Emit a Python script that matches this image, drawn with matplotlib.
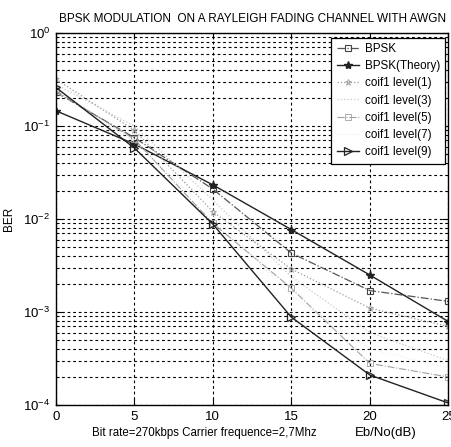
import numpy as np
import matplotlib
matplotlib.use("Agg")
import matplotlib.pyplot as plt
from matplotlib.ticker import LogLocator, NullFormatter

plt.rcParams['font.family'] = ['Liberation Sans', 'DejaVu Sans']

# Eb/No points (dB) and BER values
ebno = [0, 5, 10, 15, 20, 25]
ber_bpsk = [0.23, 0.075, 0.021, 0.0043, 0.0017, 0.0013]
ber_theory = [0.146, 0.064, 0.0233, 0.0077, 0.0025, 0.00079]
ber_lvl1 = [0.32, 0.09, 0.012, 0.0029, 0.0011, 0.0007]
ber_lvl3 = [0.28, 0.1, 0.016, 0.0024, 0.0006, 0.0003]
ber_lvl5 = [0.24, 0.072, 0.009, 0.0018, 0.00028, 0.0002]
ber_lvl7 = [0.23, 0.068, 0.011, 0.0015, 0.0004, 0.00025]
ber_lvl9 = [0.26, 0.058, 0.0088, 0.00088, 0.00021, 0.000105]

fig = plt.figure(figsize=(4.51, 4.47), dpi=100)
ax = fig.add_axes([0.124, 0.094, 0.870, 0.832])

ax.semilogy(ebno, ber_bpsk, '-.', color='#555555', lw=0.9, marker='s',
            ms=5, mfc='none', mec='#444444', mew=0.8, label='BPSK')
ax.semilogy(ebno, ber_theory, '-', color='#222222', lw=1.0, marker='*',
            ms=6, mfc='#222222', mec='#222222', label='BPSK(Theory)')
ax.semilogy(ebno, ber_lvl1, ':', color='#9a9a9a', lw=0.9, marker='*',
            ms=5, mfc='none', mec='#9a9a9a', mew=0.6, label='coif1 level(1)')
ax.semilogy(ebno, ber_lvl3, ':', color='#c8c8c8', lw=0.9,
            label='coif1 level(3)')
ax.semilogy(ebno, ber_lvl5, '-.', color='#a0a0a0', lw=0.8, marker='s',
            ms=4, mfc='none', mec='#a0a0a0', mew=0.6, label='coif1 level(5)')
ax.semilogy(ebno, ber_lvl7, ':', color='#ececec', lw=0.8,
            label='coif1 level(7)')
ax.semilogy(ebno, ber_lvl9, '-', color='#222222', lw=1.0, marker='>',
            ms=6, mfc='none', mec='#222222', mew=0.9, label='coif1 level(9)')

ax.set_xlim(0, 25)
ax.set_ylim(1e-4, 1)
ax.set_xticks([0, 5, 10, 15, 20, 25])
ax.yaxis.set_major_locator(LogLocator(base=10, numticks=10))
ax.yaxis.set_minor_locator(LogLocator(base=10, subs=np.arange(2, 10), numticks=10))
ax.yaxis.set_minor_formatter(NullFormatter())

# dashed MATLAB-like grid
gstyle = dict(color='black', lw=0.8, linestyle=(0, (2.5, 2.5)))
ax.grid(True, which='major', axis='both', **gstyle)
ax.grid(True, which='minor', axis='y', **gstyle)

ax.tick_params(which='both', direction='in', labelsize=9.5, top=True, right=True)
ax.tick_params(which='major', length=4, pad=4)
ax.tick_params(which='minor', length=2)
for s in ax.spines.values():
    s.set_linewidth(1.0)

ax.set_ylabel('BER', fontsize=8.5, labelpad=6)
ax.set_title('BPSK MODULATION  ON A RAYLEIGH FADING CHANNEL WITH AWGN',
             fontsize=8.5, pad=8)

fig.text(92 / 451, 1 - 433 / 447, 'Bit rate=270kbps Carrier frequence=2,7Mhz',
         fontsize=8.3, ha='left', va='center')
fig.text(355 / 451, 1 - 433 / 447, 'Eb/No(dB)', fontsize=9.5, ha='left', va='center')

leg = ax.legend(loc='upper right', bbox_to_anchor=(0.992, 0.988), borderaxespad=0,
                fontsize=8.4, handlelength=1.9, labelspacing=0.45, fancybox=False,
                framealpha=1, edgecolor='black', borderpad=0.45, handletextpad=0.5)
leg.get_frame().set_linewidth(0.9)

fig.savefig('out.png', dpi=100)
